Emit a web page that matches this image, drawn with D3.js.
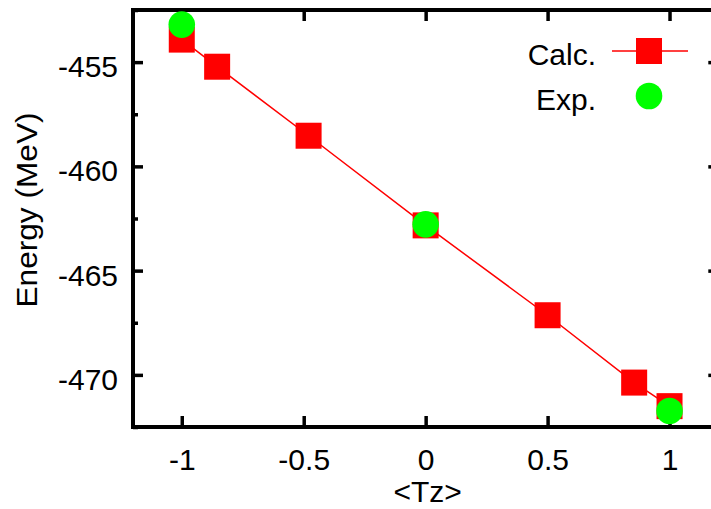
<!DOCTYPE html>
<html>
<head>
<meta charset="utf-8">
<script src="https://cdn.jsdelivr.net/npm/d3@7"></script>
<style>
  html, body { margin: 0; padding: 0; background: #fff; }
  svg { display: block; }
  text { font-family: "Liberation Sans", Arial, sans-serif; fill: #000; }
</style>
</head>
<body>
<svg id="chart" width="711" height="509"></svg>
<script>
// ---- data ----
const calcTz = [-1, -0.855, -0.48, 0, 0.5, 0.855, 1];
const calcE  = [-453.92, -455.22, -458.53, -462.83, -467.14, -470.37, -471.5];
const expTz  = [-1, 0, 1];
const expE   = [-453.2, -462.78, -471.73];
const xTicks = [-1, -0.5, 0, 0.5, 1];
const yTicks = [-455, -460, -465, -470];
const yMinorTicks = [-452.5, -457.5, -462.5, -467.5, -472.5];
const legendLabels = ["Calc.", "Exp."];
const xLabel = "<Tz>";
const yLabel = "Energy (MeV)";

// ---- layout ----
const mLeft = 133, mRight = 718.3, mTop = 10, mBottom = 427;
const FS = 30;

const svg = d3.select("#chart");
const x = d3.scaleLinear().domain([-1.2, 1.2]).range([mLeft, mRight]);
const y = d3.scaleLinear().domain([-472.5, -452.5]).range([mBottom, mTop]);
const fmt = d => String(d); // plain hyphen-minus, as in the reference

function styleAxis(g) {
  g.select(".domain").remove();
  g.selectAll(".tick line").attr("stroke", "#000").attr("stroke-width", 3.5);
  g.selectAll("text").attr("font-size", FS).attr("font-family", "Liberation Sans, Arial, sans-serif").attr("fill", "#000");
}

// bottom axis
svg.append("g").attr("transform", `translate(0,${mBottom})`)
  .call(d3.axisBottom(x).tickValues(xTicks).tickSize(-11).tickPadding(22).tickFormat(fmt))
  .call(styleAxis);
// top axis (mirror ticks)
svg.append("g").attr("transform", `translate(0,${mTop})`)
  .call(d3.axisTop(x).tickValues(xTicks).tickSize(-11).tickFormat(""))
  .call(styleAxis);
// left axis
const gl = svg.append("g").attr("transform", `translate(${mLeft},0)`)
  .call(d3.axisLeft(y).tickValues(yTicks).tickSize(-10).tickPadding(15).tickFormat(fmt))
  .call(styleAxis);
gl.selectAll("text").attr("dy", "0.48em");
svg.append("g").attr("transform", `translate(${mLeft},0)`)
  .call(d3.axisLeft(y).tickValues(yMinorTicks).tickSize(-5).tickFormat(""))
  .call(styleAxis);
// right axis (mirror ticks)
svg.append("g").attr("transform", `translate(${mRight},0)`)
  .call(d3.axisRight(y).tickValues(yTicks).tickSize(-10).tickFormat(""))
  .call(styleAxis);
svg.append("g").attr("transform", `translate(${mRight},0)`)
  .call(d3.axisRight(y).tickValues(yMinorTicks).tickSize(-5).tickFormat(""))
  .call(styleAxis);

// frame
svg.append("rect")
  .attr("x", mLeft).attr("y", mTop)
  .attr("width", mRight - mLeft).attr("height", mBottom - mTop)
  .attr("fill", "none").attr("stroke", "#000").attr("stroke-width", 4);

// axis labels
svg.append("text")
  .attr("x", x(0) + 2).attr("y", 502)
  .attr("text-anchor", "middle").attr("font-size", FS)
  .text(xLabel);
svg.append("text")
  .attr("transform", `translate(37,210) rotate(-90)`)
  .attr("text-anchor", "middle").attr("font-size", FS)
  .attr("textLength", 195).attr("lengthAdjust", "spacingAndGlyphs")
  .text(yLabel);

// calc line + squares
const calcData = calcTz.map((t, i) => ({ t, e: calcE[i] }));
svg.append("path")
  .datum(calcData)
  .attr("fill", "none").attr("stroke", "#ff0000").attr("stroke-width", 1.5)
  .attr("d", d3.line().x(d => x(d.t)).y(d => y(d.e)));
const SQ = 26;
svg.append("g").selectAll("rect").data(calcData).join("rect")
  .attr("x", d => x(d.t) - SQ / 2).attr("y", d => y(d.e) - SQ / 2)
  .attr("width", SQ).attr("height", SQ).attr("fill", "#ff0000");

// exp circles
const expData = expTz.map((t, i) => ({ t, e: expE[i] }));
svg.append("g").selectAll("circle").data(expData).join("circle")
  .attr("cx", d => x(d.t)).attr("cy", d => y(d.e)).attr("r", 13.3)
  .attr("fill", "#00ff00");

// legend
const lg = svg.append("g");
const legY = [51, 96];
lg.selectAll("text").data(legendLabels).join("text")
  .attr("x", 596).attr("y", (d, i) => legY[i] + 13.5)
  .attr("text-anchor", "end").attr("font-size", FS)
  .text(d => d);
lg.append("line").attr("x1", 612).attr("x2", 688).attr("y1", legY[0]).attr("y2", legY[0])
  .attr("stroke", "#ff0000").attr("stroke-width", 1.5);
lg.append("rect").attr("x", 649 - SQ / 2).attr("y", legY[0] - SQ / 2)
  .attr("width", SQ).attr("height", SQ).attr("fill", "#ff0000");
lg.append("circle").attr("cx", 649).attr("cy", legY[1]).attr("r", 13.3).attr("fill", "#00ff00");
</script>
</body>
</html>
